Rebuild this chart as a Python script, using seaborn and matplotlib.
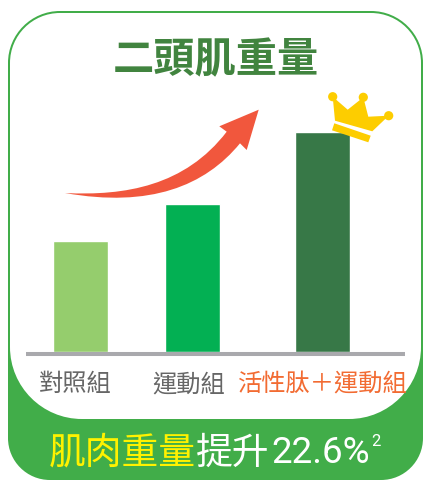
import matplotlib
matplotlib.use("Agg")
import matplotlib.pyplot as plt
import pandas as pd
import seaborn as sns
from matplotlib.patches import PathPatch, Polygon, Circle
from matplotlib.path import Path

# Chart content
groups = ["對照組", "運動組", "活性肽＋運動組"]
muscle_weight = [100, 133, 198]
title_text = "二頭肌重量"
headline_key = "肌肉重量"
headline_verb = "提升"
headline_value = "22.6%"
footnote_mark = "2"

# Layout, in figure pixels
W, H = 423, 481
BASE_Y = 353
PX_PER_UNIT = 1.11
bar_centers = [80.7, 192.7, 322.7]
label_centers = [75, 188.5, 323]

# Colours
bar_colors = ["#95cd6d", "#03b053", "#377847"]
label_colors = ["#666666", "#666666", "#f26b32"]
GREEN = "#41ad49"
TITLE_GREEN = "#41843f"
CROWN = "#fdcd00"
ARROW = "#f1573d"

sns.set_theme(style="white")
CJK = ["Noto Sans CJK TC", "DejaVu Sans"]
plt.rcParams["font.family"] = CJK

fig = plt.figure(figsize=(W / 100, H / 100), dpi=100, facecolor="white")


def pixel_axes(zorder):
    ax = fig.add_axes([0, 0, 1, 1], zorder=zorder)
    ax.set_xlim(0, W)
    ax.set_ylim(H, 0)
    ax.axis("off")
    ax.patch.set_alpha(0)
    return ax


def rounded_panel(x0, y0, x1, y1, r_top, r_bottom):
    """Closed outline with separate corner radii for the top and bottom edges."""
    k = 0.5523
    t, b = r_top, r_bottom
    verts = [
        (x0 + t, y0), (x1 - t, y0),
        (x1 - t + k * t, y0), (x1, y0 + t - k * t), (x1, y0 + t),
        (x1, y1 - b),
        (x1, y1 - b + k * b), (x1 - b + k * b, y1), (x1 - b, y1),
        (x0 + b, y1),
        (x0 + b - k * b, y1), (x0, y1 - b + k * b), (x0, y1 - b),
        (x0, y0 + t),
        (x0, y0 + t - k * t), (x0 + t - k * t, y0), (x0 + t, y0),
    ]
    codes = [Path.MOVETO, Path.LINETO] + [Path.CURVE4] * 3 + [Path.LINETO] + [Path.CURVE4] * 3 + \
            [Path.LINETO] + [Path.CURVE4] * 3 + [Path.LINETO] + [Path.CURVE4] * 3
    return Path(verts, codes)


# Card behind the chart: green body with a white rounded panel on it
back = pixel_axes(0)
back.add_patch(PathPatch(rounded_panel(8, 12, 423, 481, 52, 42), fc=GREEN, ec="none"))
back.add_patch(PathPatch(rounded_panel(10, 14, 421, 420, 50, 72), fc="white", ec="none"))

# Bars
ax = fig.add_axes([0, (H - BASE_Y) / H, 1, BASE_Y / H], zorder=1)
ax.patch.set_alpha(0)
df = pd.DataFrame({"pos": bar_centers, "group": groups, "value": muscle_weight})
sns.barplot(data=df, x="pos", y="value", hue="group", palette=bar_colors, native_scale=True,
            width=55 / 112, legend=False, saturation=1, ax=ax)
ax.set_xlim(0, W)
ax.set_ylim(0, BASE_Y / PX_PER_UNIT)
ax.set_xlabel("")
ax.set_ylabel("")
ax.set_yticks([])
ax.set_xticks(label_centers)
ax.set_xticklabels(groups, fontsize=17.5)
ax.tick_params(axis="x", length=0, pad=13)
for tick, color in zip(ax.get_xticklabels(), label_colors):
    tick.set_color(color)
sns.despine(ax=ax, left=True, bottom=True)

# Decorations and headline text
top = pixel_axes(2)
top.plot([26, 405], [354.5, 354.5], color="#a9a9ad", lw=2.9, solid_capstyle="butt")

top.text(216, 60.5, title_text, fontsize=29.7, fontweight="bold", color=TITLE_GREEN,
         ha="center", va="center")

# Rising arrow
arrow_path = Path(
    [(65, 194), (125, 197), (185, 187), (226.7, 132.7), (219.3, 127.3), (258.7, 110.7),
     (246.7, 151), (240, 144.3), (205, 187), (150, 209), (65, 194)],
    [Path.MOVETO, Path.CURVE4, Path.CURVE4, Path.CURVE4, Path.LINETO, Path.LINETO,
     Path.LINETO, Path.LINETO, Path.CURVE4, Path.CURVE4, Path.CURVE4],
)
top.add_patch(PathPatch(arrow_path, fc=ARROW, ec="none"))

# Crown on the tallest bar
crown_body = [(332.7, 97.7), (347.7, 110.7), (363.3, 98.3), (368.3, 117.7),
              (388.7, 116.7), (372.3, 132.3), (335, 121.7)]
crown_band = [(334.3, 124.3), (370.7, 136.7), (368.3, 143.3), (332, 131.3)]
top.add_patch(Polygon(crown_body, fc=CROWN, ec="none"))
top.add_patch(Polygon(crown_band, fc=CROWN, ec="none"))
for center in [(332.7, 97.7), (363.3, 98.3), (388.7, 116.7)]:
    top.add_patch(Circle(center, 4.6, fc=CROWN, ec="none"))

# Headline in the green band
top.text(49, 453, headline_key, fontsize=26.5, fontweight="medium", color="#fff200",
         ha="left", va="center")
top.text(196, 453, headline_verb, fontsize=26.5, fontweight="medium", color="white",
         ha="left", va="center")
top.text(271, 453, headline_value, fontsize=26.5, color="white", ha="left", va="center",
         family="Roboto")
top.text(371, 441.5, footnote_mark, fontsize=12, color="white", ha="left", va="center",
         family="Roboto")

fig.savefig("out.png", dpi=100)
